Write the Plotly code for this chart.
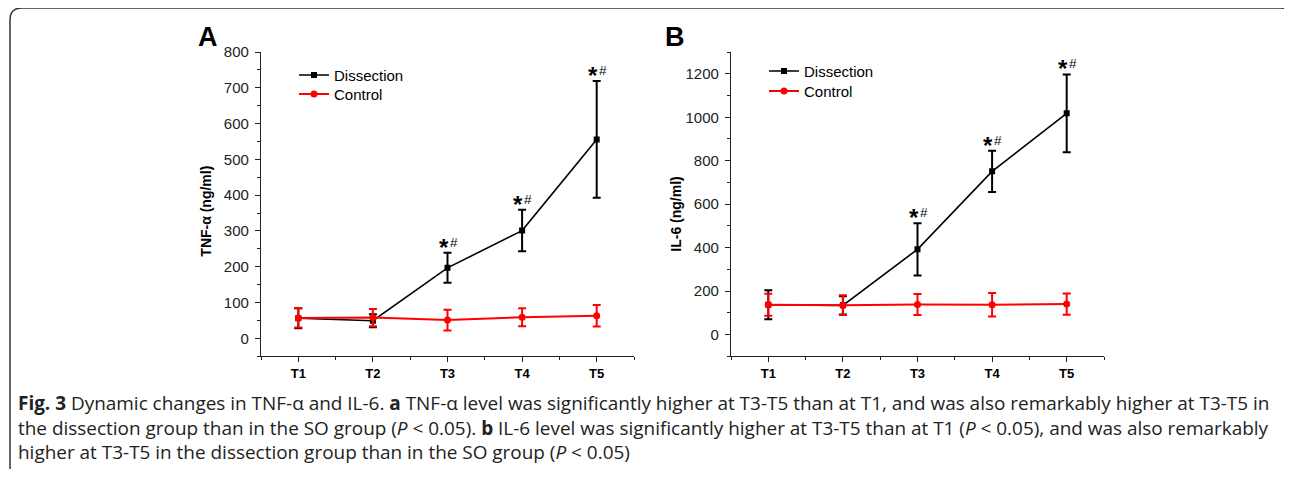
import plotly.graph_objects as go

# ---------------- data ----------------
categories = ["T1", "T2", "T3", "T4", "T5"]

tnf_dissection = [56, 49, 197, 301, 556]
tnf_dissection_err = [28, 18, 42, 58, 163]
tnf_control = [57, 58, 51, 59, 63]
tnf_control_err = [27, 24, 29, 25, 30]

il6_dissection = [137, 134, 392, 751, 1018]
il6_dissection_err = [67, 42, 120, 95, 179]
il6_control = [137, 135, 138, 137, 140]
il6_control_err = [51, 45, 48, 54, 49]

significant = ["T3", "T4", "T5"]

tnf_ticks = [0, 100, 200, 300, 400, 500, 600, 700, 800]
il6_ticks = [0, 200, 400, 600, 800, 1000, 1200]

caption_lines = [
    "<b>Fig. 3</b> Dynamic changes in TNF-α and IL-6. <b>a</b> TNF-α level was significantly higher at T3-T5 than at T1, and was also remarkably higher at T3-T5 in",
    "the dissection group than in the SO group (<i>P</i> &lt; 0.05). <b>b</b> IL-6 level was significantly higher at T3-T5 than at T1 (<i>P</i> &lt; 0.05), and was also remarkably",
    "higher at T3-T5 in the dissection group than in the SO group (<i>P</i> &lt; 0.05)",
]

# ---------------- helpers ----------------
# page body keeps its default 8px margin, so the figure is sized to fit the window
OFF = 8
W, H = 1292 - 2 * OFF, 477 - 2 * OFF
# empirical vertical correction of the photographed page
YS, YB = 0.977, 9.2


def px(x):
    return (x - OFF) / W


def py(y):
    yd = (y - YB) / YS
    return 1 - (yd - OFF) / H


xpos = list(range(1, len(categories) + 1))
xminor = [p - 0.5 for p in xpos] + [xpos[-1] + 0.5]
ARIAL = "Arial, Liberation Sans, sans-serif"
AX = "#222222"

fig = go.Figure()


def add_panel(dis, dis_err, ctl, ctl_err, xa, ya, leg_dis, leg_ctl):
    fig.add_trace(go.Scatter(
        x=xpos, y=dis, name="Dissection", mode="lines+markers",
        line=dict(color="black", width=1.6),
        marker=dict(symbol="square", size=6, color="black"),
        error_y=dict(type="data", array=dis_err, visible=True, color="black",
                     thickness=2, width=4),
        xaxis=xa, yaxis=ya, legend=leg_dis))
    fig.add_trace(go.Scatter(
        x=xpos, y=ctl, name="Control", mode="lines+markers",
        line=dict(color="#ff0000", width=2),
        marker=dict(symbol="circle", size=7, color="#ff0000"),
        error_y=dict(type="data", array=ctl_err, visible=True, color="#ff0000",
                     thickness=2, width=4),
        xaxis=xa, yaxis=ya, legend=leg_ctl))
    # significance marks
    for c, v, e in zip(categories, dis, dis_err):
        if c in significant:
            xv = xpos[categories.index(c)]
            fig.add_annotation(
                x=xv, y=v + e, xref=xa, yref=ya, text="<b>*</b>",
                showarrow=False, yanchor="bottom", xanchor="center",
                xshift=-4, yshift=-10,
                font=dict(family=ARIAL, size=24, color="black"))
            fig.add_annotation(
                x=xv, y=v + e, xref=xa, yref=ya, text="#",
                showarrow=False, yanchor="bottom", xanchor="center",
                xshift=6, yshift=1,
                font=dict(family=ARIAL, size=13.5, color="black"))


add_panel(tnf_dissection, tnf_dissection_err, tnf_control, tnf_control_err,
          "x", "y", "legend", "legend2")
add_panel(il6_dissection, il6_dissection_err, il6_control, il6_control_err,
          "x2", "y2", "legend3", "legend4")

xaxis_common = dict(
    tickmode="array", tickvals=xpos, ticktext=categories,
    range=[0.5, 5.5], showline=True, linecolor=AX, linewidth=1.3,
    ticks="outside", ticklen=5, tickwidth=1.3, tickcolor=AX,
    minor=dict(tickvals=xminor, ticks="outside", ticklen=3, tickwidth=1.2, tickcolor=AX),
    showgrid=False, zeroline=False,
    tickfont=dict(family=ARIAL, size=13, color="black", weight="bold"),
)
yaxis_common = dict(
    showline=True, linecolor=AX, linewidth=1.3,
    ticks="outside", ticklen=5, tickwidth=1.3, tickcolor=AX,
    showgrid=False, zeroline=False, ticklabelstandoff=3,
    tickfont=dict(family=ARIAL, size=15, color="#222"),
)


def legend_at(x_text, y_center):
    return dict(x=px(x_text - 41), y=py(y_center), xanchor="left", yanchor="middle",
                font=dict(family=ARIAL, size=15, color="black"),
                bgcolor="rgba(0,0,0,0)", tracegroupgap=0)


fig.update_layout(
    width=W, height=H, margin=dict(l=0, r=0, t=0, b=0),
    paper_bgcolor="white", plot_bgcolor="white",
    xaxis=dict(domain=[px(261), px(634)], anchor="y", **xaxis_common),
    yaxis=dict(domain=[py(355), py(52)], anchor="x", range=[-50, 800],
               tickmode="array", tickvals=tnf_ticks,
               minor=dict(tickvals=[t + 50 for t in tnf_ticks[:-1]] + [-50], ticks="outside",
                          ticklen=3, tickwidth=1.2, tickcolor=AX),
               **yaxis_common),
    xaxis2=dict(domain=[px(731), px(1104)], anchor="y2", **xaxis_common),
    yaxis2=dict(domain=[py(355), py(52)], anchor="x2", range=[-100, 1300],
                tickmode="array", tickvals=il6_ticks,
                minor=dict(tickvals=[t + 100 for t in il6_ticks] + [-100], ticks="outside",
                           ticklen=3, tickwidth=1.2, tickcolor=AX),
                **yaxis_common),
    legend=legend_at(335, 75),
    legend2=legend_at(335, 94),
    legend3=legend_at(805, 71),
    legend4=legend_at(805, 91),
    showlegend=True,
)

# panel letters
fig.add_annotation(x=px(196), y=py(37), xref="paper", yref="paper", text="<b>A</b>",
                   showarrow=False, xanchor="left", yanchor="middle",
                   font=dict(family=ARIAL, size=27, color="black"))
fig.add_annotation(x=px(663), y=py(37), xref="paper", yref="paper", text="<b>B</b>",
                   showarrow=False, xanchor="left", yanchor="middle",
                   font=dict(family=ARIAL, size=27, color="black"))

# y-axis titles
fig.add_annotation(x=px(206), y=py(211), xref="paper", yref="paper", text="<b>TNF-α (ng/ml)</b>",
                   showarrow=False, textangle=-90, xanchor="center", yanchor="middle",
                   font=dict(family=ARIAL, size=14, color="black"))
fig.add_annotation(x=px(676), y=py(214), xref="paper", yref="paper", text="<b>IL-6 (ng/ml)</b>",
                   showarrow=False, textangle=-90, xanchor="center", yanchor="middle",
                   font=dict(family=ARIAL, size=14, color="black"))

# caption (one block, three lines)
fig.add_annotation(x=px(16), y=py(426), xref="paper", yref="paper",
                   text="<br>".join(caption_lines), align="left",
                   showarrow=False, xanchor="left", yanchor="middle",
                   font=dict(family="Open Sans, sans-serif", size=18.95, color="#222"))


# rounded frame
def pp(x, y):
    return f"{px(x):.5f},{py(y):.5f}"


frame = (f"M {pp(22, 478)} Q {pp(10, 478)} {pp(10, 467)} L {pp(10, 20)} "
         f"Q {pp(10, 8)} {pp(22, 8)} L {pp(1281, 8)} Q {pp(1290, 8)} {pp(1291, 15)}")
fig.add_shape(type="path", path=frame, xref="paper", yref="paper",
              line=dict(color="#333", width=1.5))

fig.write_html("out.html")
